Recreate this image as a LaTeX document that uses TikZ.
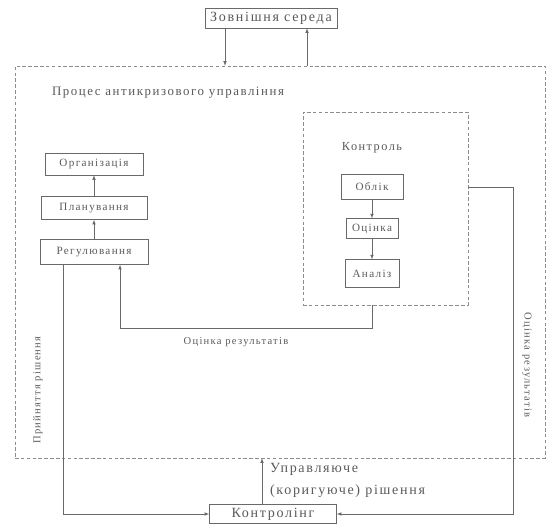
\documentclass[tikz,border=0pt]{standalone}
\usepackage{fontspec}
\setmainfont{Liberation Serif}[LetterSpace=12]
\usepackage{tikz}
\usetikzlibrary{arrows,shapes}

\begin{document}
\begin{tikzpicture}[x=0.03cm,y=-0.03cm,>=latex]
    \definecolor{mygray}{RGB}{90,90,90}
    \definecolor{mylines}{RGB}{105,105,105}
    \definecolor{myframe}{RGB}{140,140,140}

    \tikzstyle{blok}=[rectangle,draw=mylines,thin,fill=white,text=mygray,inner sep=1pt,font=\fontsize{9.5}{10}\selectfont]  % блоки
    \tikzstyle{ramka}=[rectangle,draw=myframe,thin,dash pattern=on 3pt off 2pt]  % пунктирні рамки
    \tikzstyle{napys}=[text=mygray,font=\fontsize{9}{11}\selectfont]  % підписи
    \tikzstyle{zvyazok}=[draw=mylines,thin]

    \useasboundingbox (0,0) rectangle (551,527);

    % рамки
    \node[ramka,minimum width=15.9cm,minimum height=11.76cm](proces) at (280,262){};
    \node[ramka,minimum width=4.95cm,minimum height=5.79cm](kontrol) at (385.5,208.5){};

    % блоки
    \node[blok,minimum width=3.96cm,minimum height=0.6cm,font=\fontsize{12}{13}\selectfont](zovn) at (271,18){Зовнішня середа};
    \node[napys,anchor=west,font=\fontsize{11}{12}\selectfont](procesnapys) at (48,93){Процес антикризового управління};
    \node[napys,font=\fontsize{10.5}{12}\selectfont](kontrolnapys) at (372,148){Контроль};
    \node[blok,minimum width=1.86cm,minimum height=0.75cm](oblik) at (372,187){Облік};
    \node[blok,below of=oblik,node distance=12.5mm,minimum width=1.56cm,minimum height=0.6cm](otsinka){Оцінка};
    \node[blok,below of=otsinka,node distance=13.5mm,minimum width=1.62cm,minimum height=0.84cm](analiz){Аналіз};
    \node[blok,minimum width=3.24cm,minimum height=0.75cm](regul) at (94,252){Регулювання};
    \node[blok,above of=regul,node distance=13.2mm,minimum width=3.18cm,minimum height=0.69cm](plan){Планування};
    \node[blok,above of=plan,node distance=13.2mm,minimum width=2.94cm,minimum height=0.66cm](orhan){Організація};
    \node[blok,minimum width=3.81cm,minimum height=0.57cm,font=\fontsize{12}{13}\selectfont](kontroling) at (273,514){Контролінг};

    % підписи
    \node[napys](otsinkanapys) at (236,342){Оцінка результатів};
    \node[napys,rotate=90](rishennianapys) at (38,390){Прийняття рішення};
    \node[napys,rotate=-90](rezultatnapys) at (527,365){Оцінка результатів};
    \node[napys,anchor=north west,align=left,font=\fontsize{12}{19}\selectfont](upravnapys) at (266,459){Управляюче\\(коригуюче) рішення};

    % лінії
    \draw[zvyazok,->](zovn.south -| 225,0)--(proces.north -| 225,0);
    \draw[zvyazok,->](proces.north -| 307,0)--(zovn.south -| 307,0);
    \draw[zvyazok,->](oblik)--(otsinka);
    \draw[zvyazok,->](otsinka)--(analiz);
    \draw[zvyazok,->](regul)--(plan);
    \draw[zvyazok,->](plan)--(orhan);
    \draw[zvyazok,->](kontrol.south -| analiz) -- ++(0,23) -| (regul.south -| 120,0);
    \draw[zvyazok,->](regul.south -| 63,0) |- (kontroling.west);
    \draw[zvyazok,->](kontrol.east |- oblik) -- ++(45,0) |- (kontroling.east);
    \draw[zvyazok,->](kontroling.north -| 262,0) -- (proces.south -| 262,0);
\end{tikzpicture}
\end{document}
